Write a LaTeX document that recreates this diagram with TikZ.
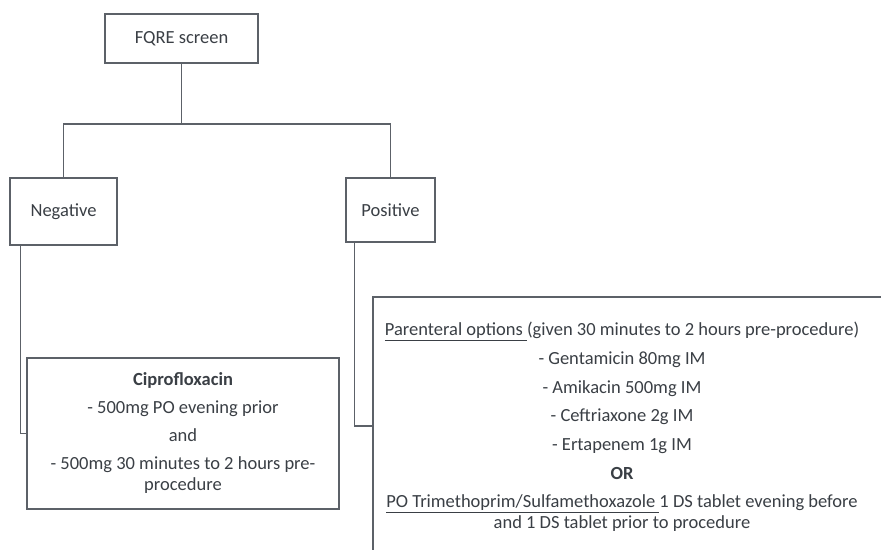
\documentclass[tikz,border=0pt]{standalone}
\usepackage{fontspec}
\setmainfont{Carlito}
\definecolor{linec}{HTML}{5C6168}
\definecolor{txtc}{HTML}{3A3F45}
\begin{document}
\begin{tikzpicture}[x=1pt,y=-1pt,
  box/.style={draw=linec, line width=1.5pt, rectangle, inner sep=0pt, text=txtc,
    font={\fontsize{18.5}{20}\selectfont}},
  txt/.style={text=txtc, align=center, inner sep=0pt},
  conn/.style={draw=linec, line width=1.5pt}]
\useasboundingbox (0,0) rectangle (881,549);
\clip (0,0) rectangle (881,549);
\fill[white] (0,0) rectangle (881,549);
\node[box, minimum width=153pt, minimum height=49pt] (fq) at (181.5,38.5) {FQRE screen};
\node[box, minimum width=107pt, minimum height=67pt] (neg) at (63.5,211.5) {Negative};
\node[box, minimum width=89pt, minimum height=64pt] (pos) at (390.5,210) {Positive};
\node[box, minimum width=312pt, minimum height=151pt] (cip) at (183,433.5) {};
\node[box, minimum width=527pt, minimum height=258pt] (pbox) at (636.5,426) {};
\coordinate (j) at (181.5,124);
\draw[conn] (fq.south) -- (j);
\draw[conn] (neg.north) |- (j) -| (pos.north);
\draw[conn] ([xshift=11pt]neg.south west) |- (cip.west);
\draw[conn] ([xshift=9pt]pos.south west) |- (pbox.west);
\node[txt, font={\fontsize{18.5}{21}\selectfont}] (ciptxt) at (183,433)
  {\textbf{Ciprofloxacin}\\[7pt]
   - 500mg PO evening prior\\[7pt]
   and\\[7pt]
   - 500mg 30 minutes to 2 hours pre-\\
   procedure};
\node[txt, font={\fontsize{18.5}{21}\selectfont}] (ptxt) at (622,427)
  {\underline{Parenteral options }(given 30 minutes to 2 hours pre-procedure)\\[7.7pt]
   - Gentamicin 80mg IM\\[7.7pt]
   - Amikacin 500mg IM\\[7.7pt]
   - Ceftriaxone 2g IM\\[7.7pt]
   - Ertapenem 1g IM\\[7.7pt]
   \textbf{OR}\\[7.7pt]
   \underline{PO Trimethoprim/Sulfamethoxazole }1 DS tablet evening before\\
   and 1 DS tablet prior to procedure};
\end{tikzpicture}
\end{document}
